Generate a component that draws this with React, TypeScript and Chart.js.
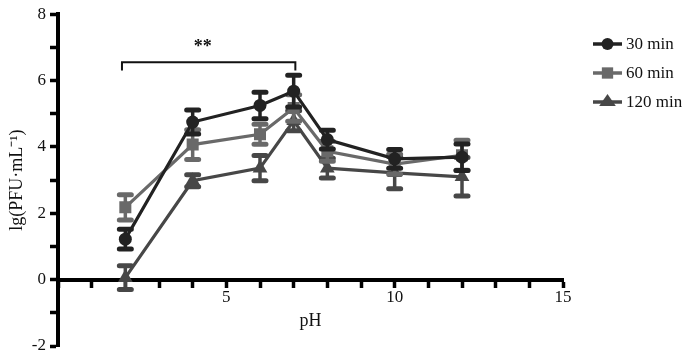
import React, { useEffect, useRef } from "react";
import { Chart, registerables } from "chart.js";

Chart.register(...registerables);

// ---- data ----
const pH = [2, 4, 6, 7, 8, 10, 12];
const mean30 = [1.22, 4.75, 5.25, 5.68, 4.22, 3.64, 3.69];
const err30 = [0.3, 0.36, 0.4, 0.48, 0.28, 0.28, 0.4];
const mean60 = [2.18, 4.07, 4.38, 5.17, 3.87, 3.48, 3.75];
const err60 = [0.38, 0.45, 0.3, 0.4, 0.3, 0.3, 0.45];
const mean120 = [0.06, 2.98, 3.36, 4.79, 3.36, 3.22, 3.1];
const err120 = [0.36, 0.18, 0.38, 0.3, 0.3, 0.48, 0.58];

const seriesLabels = ["30 min", "60 min", "120 min"];
const seriesColors = ["#222222", "#696969", "#474747"];
const seriesStyles = ["circle", "rect", "triangle"];

const xLabeledTicks = [5, 10, 15];
const yLabeledTicks = [-2, 0, 2, 4, 6, 8];

const bracketFrom = 1.9;
const bracketTo = 7.05;
const bracketY = 6.55;
const bracketDrop = 0.25;
const bracketText = "**";
const bracketTextX = 4.3;
const bracketTextY = 7.0;

const FONT = "'Liberation Serif', 'Times New Roman', serif";

function drawMarker(ctx: CanvasRenderingContext2D, style: string, x: number, y: number, r: number) {
  ctx.beginPath();
  if (style === "circle") {
    ctx.arc(x, y, r, 0, Math.PI * 2);
  } else if (style === "rect") {
    const s = r * Math.SQRT1_2;
    ctx.rect(x - s, y - s, 2 * s, 2 * s);
  } else {
    const h = r;
    ctx.moveTo(x, y - h);
    ctx.lineTo(x + h * 0.866 * 1.2, y + h * 0.5);
    ctx.lineTo(x - h * 0.866 * 1.2, y + h * 0.5);
    ctx.closePath();
  }
  ctx.fill();
}

const errorBarPlugin = {
  id: "errorBars",
  beforeDatasetDraw(chart: any, args: any) {
    const ds = chart.data.datasets[args.index];
    const errs: number[] = ds.errors;
    if (!errs) return;
    const ctx: CanvasRenderingContext2D = chart.ctx;
    const xs = chart.scales.x;
    const ys = chart.scales.y;
    ctx.save();
    ctx.strokeStyle = ds.borderColor;
    ctx.lineCap = "round";
    ds.data.forEach((pt: any, i: number) => {
      const px = xs.getPixelForValue(pt.x);
      const top = ys.getPixelForValue(pt.y + errs[i]);
      const bot = ys.getPixelForValue(pt.y - errs[i]);
      ctx.lineWidth = 3.5;
      ctx.beginPath();
      ctx.moveTo(px, top);
      ctx.lineTo(px, bot);
      ctx.stroke();
      ctx.lineWidth = 5;
      ctx.beginPath();
      ctx.moveTo(px - 6, top);
      ctx.lineTo(px + 6, top);
      ctx.moveTo(px - 6, bot);
      ctx.lineTo(px + 6, bot);
      ctx.stroke();
    });
    ctx.restore();
  },
};

const annotationPlugin = {
  id: "annotations",
  afterDraw(chart: any) {
    const ctx: CanvasRenderingContext2D = chart.ctx;
    const xs = chart.scales.x;
    const ys = chart.scales.y;
    ctx.save();
    // significance bracket
    const x1 = xs.getPixelForValue(bracketFrom);
    const x2 = xs.getPixelForValue(bracketTo);
    const yb = ys.getPixelForValue(bracketY);
    const yd = ys.getPixelForValue(bracketY - bracketDrop);
    ctx.strokeStyle = "#111";
    ctx.lineWidth = 2;
    ctx.beginPath();
    ctx.moveTo(x1, yd);
    ctx.lineTo(x1, yb);
    ctx.lineTo(x2, yb);
    ctx.lineTo(x2, yd);
    ctx.stroke();
    ctx.fillStyle = "#111";
    ctx.font = `bold 18px ${FONT}`;
    ctx.textAlign = "center";
    ctx.textBaseline = "middle";
    ctx.fillText(bracketText, xs.getPixelForValue(bracketTextX), ys.getPixelForValue(bracketTextY));

    // legend
    const lx0 = 593;
    const lx1 = 622;
    const rows = [44, 73, 102];
    seriesLabels.forEach((label, i) => {
      const y = rows[i];
      ctx.strokeStyle = seriesColors[i];
      ctx.fillStyle = seriesColors[i];
      ctx.lineWidth = 3.5;
      ctx.beginPath();
      ctx.moveTo(lx0, y);
      ctx.lineTo(lx1, y);
      ctx.stroke();
      drawMarker(ctx, seriesStyles[i], (lx0 + lx1) / 2, y, seriesStyles[i] === "circle" ? 6 : 8);
      ctx.fillStyle = "#111";
      ctx.font = `17px ${FONT}`;
      ctx.textAlign = "left";
      ctx.textBaseline = "middle";
      ctx.fillText(label, 626, y + 1);
    });
    ctx.restore();
  },
};

function makeDataset(i: number, means: number[], errs: number[]) {
  return {
    label: seriesLabels[i],
    data: pH.map((x, k) => ({ x, y: means[k] })),
    errors: errs,
    borderColor: seriesColors[i],
    backgroundColor: seriesColors[i],
    pointBackgroundColor: seriesColors[i],
    pointBorderColor: seriesColors[i],
    pointStyle: seriesStyles[i],
    pointRadius: seriesStyles[i] === "circle" ? 6.5 : 8.5,
    pointBorderWidth: 0,
    borderWidth: 3.2,
    tension: 0,
    fill: false,
  };
}

export default function App() {
  const ref = useRef<HTMLCanvasElement>(null);
  useEffect(() => {
    document.body.style.margin = "0";
    if (!ref.current) return;
    const chart = new Chart(ref.current, {
      type: "line",
      data: {
        datasets: [
          makeDataset(0, mean30, err30),
          makeDataset(1, mean60, err60),
          makeDataset(2, mean120, err120),
        ] as any,
      },
      options: {
        animation: false,
        responsive: false,
        layout: { padding: { left: 0, top: 10, right: 137, bottom: 16 } },
        plugins: {
          legend: { display: false },
          tooltip: { enabled: false },
        },
        scales: {
          x: {
            type: "linear",
            min: 0,
            max: 15,
            position: { y: 0 } as any,
            grid: {
              display: true,
              drawOnChartArea: false,
              drawTicks: true,
              tickLength: 6,
              tickWidth: 3.5,
              tickColor: "#000",
            },
            border: { display: true, width: 4, color: "#000" },
            ticks: {
              stepSize: 1,
              autoSkip: false,
              maxRotation: 0,
              padding: 2,
              color: "#111",
              font: { family: FONT, size: 17 },
              callback: (v: any) => (xLabeledTicks.includes(Number(v)) ? String(v) : ""),
            },
            title: {
              display: true,
              text: "pH",
              color: "#111",
              font: { family: FONT, size: 18 },
              padding: { top: 0, bottom: 0 },
            },
          },
          y: {
            type: "linear",
            min: -2,
            max: 8,
            position: "left",
            afterFit: (scale: any) => {
              scale.width = 58;
            },
            grid: {
              display: true,
              drawOnChartArea: false,
              drawTicks: true,
              tickLength: 8,
              tickWidth: 3.5,
              tickColor: "#000",
            },
            border: { display: true, width: 4, color: "#000" },
            ticks: {
              stepSize: 1,
              autoSkip: false,
              padding: 4,
              color: "#111",
              font: { family: FONT, size: 17 },
              callback: (v: any) => (yLabeledTicks.includes(Number(v)) ? String(v) : ""),
            },
            title: {
              display: true,
              text: "lg(PFU·mL⁻¹)",
              color: "#111",
              font: { family: FONT, size: 18 },
              padding: { top: 6, bottom: 0 },
            },
          },
        },
      },
      plugins: [errorBarPlugin, annotationPlugin],
    });
    return () => chart.destroy();
  }, []);
  return (
    <div style={{ width: 700, height: 362, background: "#fff" }}>
      <canvas ref={ref} width={700} height={362} />
    </div>
  );
}
